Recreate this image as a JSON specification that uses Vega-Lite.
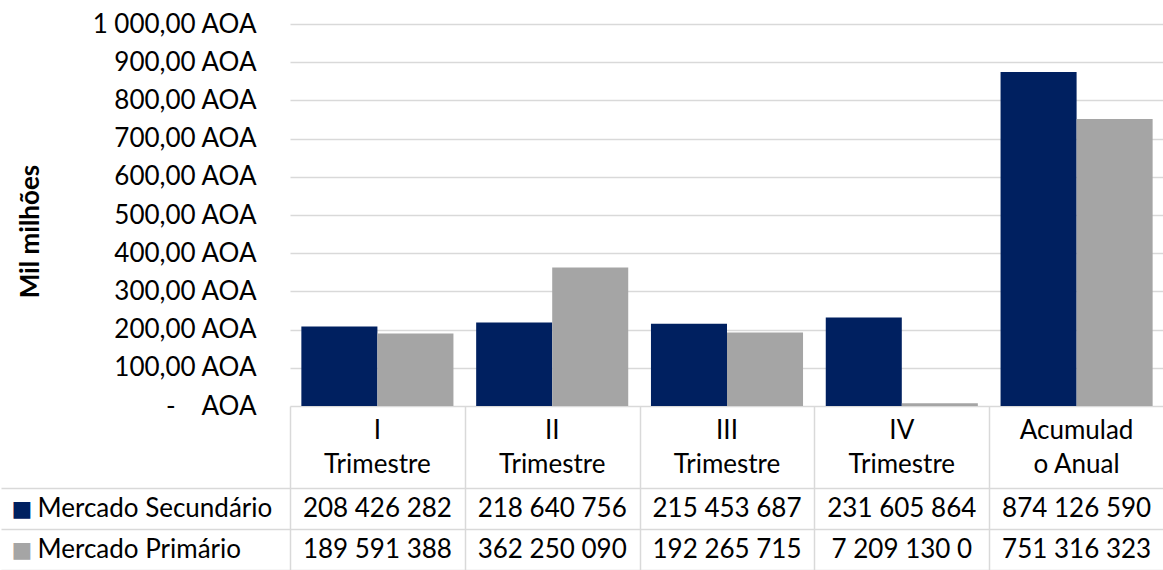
{
  "$schema": "https://vega.github.io/schema/vega-lite/v6.json",
  "padding": {"left": 0, "top": 11, "right": 0, "bottom": 0},
  "background": "white",
  "config": {
    "view": {"stroke": null},
    "font": "Lato",
    "axis": {"labelFont": "Lato", "titleFont": "Lato"}
  },
  "datasets": {
    "bars": [
      {"cat": "I Trimestre", "series": "Mercado Secundário", "value": 208.426282, "label": "208 426 282"},
      {"cat": "I Trimestre", "series": "Mercado Primário", "value": 189.591388, "label": "189 591 388"},
      {"cat": "II Trimestre", "series": "Mercado Secundário", "value": 218.640756, "label": "218 640 756"},
      {"cat": "II Trimestre", "series": "Mercado Primário", "value": 362.25009, "label": "362 250 090"},
      {"cat": "III Trimestre", "series": "Mercado Secundário", "value": 215.453687, "label": "215 453 687"},
      {"cat": "III Trimestre", "series": "Mercado Primário", "value": 192.265715, "label": "192 265 715"},
      {"cat": "IV Trimestre", "series": "Mercado Secundário", "value": 231.605864, "label": "231 605 864"},
      {"cat": "IV Trimestre", "series": "Mercado Primário", "value": 7.20913, "label": "7 209 130 0"},
      {"cat": "Acumulado Anual", "series": "Mercado Secundário", "value": 874.12659, "label": "874 126 590"},
      {"cat": "Acumulado Anual", "series": "Mercado Primário", "value": 751.316323, "label": "751 316 323"}
    ],
    "header": [
      {"cat": "I Trimestre", "row": "h1", "text": "I\nTrimestre"},
      {"cat": "II Trimestre", "row": "h1", "text": "II\nTrimestre"},
      {"cat": "III Trimestre", "row": "h1", "text": "III\nTrimestre"},
      {"cat": "IV Trimestre", "row": "h1", "text": "IV\nTrimestre"},
      {"cat": "Acumulado Anual", "row": "h1", "text": "Acumulad\no Anual"}
    ]
  },
  "spacing": 0,
  "bounds": "flush",
  "vconcat": [
    {
      "width": 874,
      "height": 382,
      "data": {"name": "bars"},
      "mark": {"type": "bar"},
      "encoding": {
        "x": {
          "field": "cat", "type": "nominal", "sort": null,
          "scale": {"domain": ["I Trimestre", "II Trimestre", "III Trimestre", "IV Trimestre", "Acumulado Anual"], "paddingInner": 0.13, "paddingOuter": 0.065},
          "axis": null
        },
        "xOffset": {
          "field": "series", "type": "nominal",
          "scale": {"domain": ["Mercado Secundário", "Mercado Primário"], "paddingInner": 0, "paddingOuter": 0}
        },
        "y": {
          "field": "value", "type": "quantitative",
          "scale": {"domain": [0, 1000], "nice": false},
          "axis": {
            "values": [0, 100, 200, 300, 400, 500, 600, 700, 800, 900, 1000],
            "labelExpr": "datum.value == 1000 ? '1 000,00 AOA' : (datum.value == 0 ? '-\u00a0\u00a0\u00a0\u00a0AOA' : datum.value + ',00 AOA')",
            "labelFontSize": 26,
            "labelColor": "#000000",
            "labelPadding": 34,
            "ticks": false,
            "domain": false,
            "grid": true,
            "gridColor": "#d9d9d9",
            "gridWidth": 1.5,
            "title": "Mil milhões",
            "titleFontSize": 26,
            "titleFontWeight": "bold",
            "titleColor": "#000000",
            "titlePadding": 48,
            "titleY": 207
          }
        },
        "color": {
          "field": "series", "type": "nominal",
          "scale": {"domain": ["Mercado Secundário", "Mercado Primário"], "range": ["#002060", "#A5A5A5"]},
          "legend": null
        }
      }
    },
    {
      "width": 874,
      "height": 164,
      "layer": [
        {
          "data": {"name": "header"},
          "mark": {"type": "text", "fontSize": 26, "color": "#000000", "baseline": "middle", "lineBreak": "\n", "lineHeight": 34, "dy": 4},
          "encoding": {
            "x": {
              "field": "cat", "type": "nominal", "sort": null,
              "scale": {"domain": ["I Trimestre", "II Trimestre", "III Trimestre", "IV Trimestre", "Acumulado Anual"], "paddingInner": 0, "paddingOuter": 0},
              "axis": {"labels": false, "ticks": false, "domain": false, "grid": true, "tickBand": "extent", "gridColor": "#d9d9d9", "gridWidth": 1.5, "title": null}
            },
            "y": {
              "field": "row", "type": "nominal", "bandPosition": 1,
              "scale": {"domain": ["h1", "h2", "Mercado Secundário", "Mercado Primário"], "paddingInner": 0, "paddingOuter": 0},
              "axis": null
            },
            "text": {"field": "text"}
          }
        },
        {
          "data": {"name": "bars"},
          "mark": {"type": "text", "fontSize": 26, "color": "#000000", "baseline": "middle"},
          "encoding": {
            "x": {"field": "cat", "type": "nominal", "sort": null},
            "y": {
              "field": "series", "type": "nominal",
              "scale": {"domain": ["h1", "h2", "Mercado Secundário", "Mercado Primário"], "paddingInner": 0, "paddingOuter": 0},
              "axis": {
                "orient": "left",
                "title": null,
                "domain": false,
                "values": ["Mercado Secundário", "Mercado Primário"],
                "ticks": true,
                "tickBand": "extent",
                "tickSize": 289,
                "tickColor": "#d9d9d9",
                "tickWidth": 1.5,
                "grid": true,
                "gridColor": "#d9d9d9",
                "gridWidth": 1.5,
                "labelAlign": "left",
                "labelBaseline": "middle",
                "labelPadding": -36,
                "labelFontSize": 26,
                "labelColor": "#000000",
                "labelLimit": 400
              }
            },
            "text": {"field": "label"}
          }
        },
        {
          "data": {"name": "bars"},
          "mark": {"type": "text", "opacity": 0},
          "encoding": {
            "x": {"field": "cat", "type": "nominal", "sort": null},
            "y": {
              "field": "series", "type": "nominal",
              "scale": {"domain": ["h1", "h2", "Mercado Secundário", "Mercado Primário"], "paddingInner": 0, "paddingOuter": 0},
              "axis": {
                "orient": "left",
                "title": null,
                "domain": false,
                "ticks": false,
                "grid": false,
                "values": ["Mercado Secundário", "Mercado Primário"],
                "labelExpr": "'■'",
                "labelFont": "DejaVu Sans",
                "labelAlign": "left",
                "labelBaseline": "middle",
                "labelPadding": 279,
                "labelFontSize": 22,
                "labelColor": {"condition": {"test": "datum.value === 'Mercado Secundário'", "value": "#002060"}, "value": "#A5A5A5"}
              }
            },
            "text": {"field": "label"}
          }
        }
      ],
      "resolve": {"scale": {"y": "independent"}}
    }
  ]
}
